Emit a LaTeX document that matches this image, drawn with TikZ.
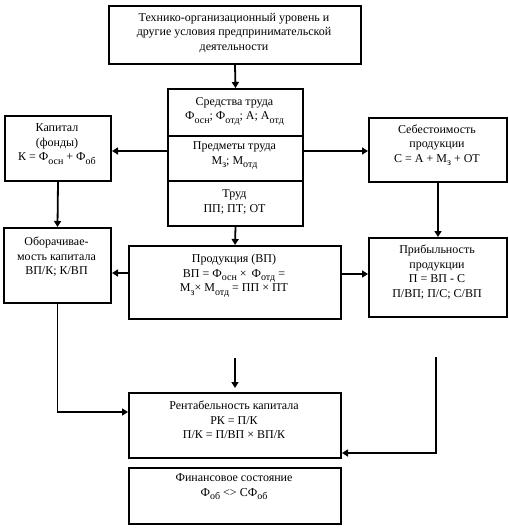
\documentclass[tikz,border=0pt]{standalone}
\usepackage{fontspec}
\setmainfont{Liberation Serif}
\usetikzlibrary{arrows.meta,calc}
\newcommand\lsub[1]{\raisebox{-3.5pt}{\fontsize{10}{10}\selectfont #1}}
\begin{document}
\begin{tikzpicture}[x=1pt,y=-1pt,
  box/.style={draw,line width=2pt,inner sep=0pt,anchor=north west},
  txt/.style={align=center,font=\fontsize{12}{14.5}\selectfont,inner sep=0pt,anchor=center},
  arr/.style={line width=1.8pt,-{Triangle[length=6pt,width=7pt]}},
  ln/.style={line width=1.8pt}]
\useasboundingbox (0,0) rectangle (509,528);
% boxes
\node[box,minimum width=252pt,minimum height=58pt] (tb) at (108,5) {};
\node[box,minimum width=135pt,minimum height=47pt] (m1) at (167,88) {};
\node[box,minimum width=135pt,minimum height=45pt] (m2) at (167,135) {};
\node[box,minimum width=135pt,minimum height=45pt] (m3) at (167,180) {};
\node[box,minimum width=106pt,minimum height=65pt] (cap) at (4,115) {};
\node[box,minimum width=138pt,minimum height=64pt] (seb) at (368,117) {};
\node[box,minimum width=107pt,minimum height=75pt] (ob) at (3,227) {};
\node[box,minimum width=212pt,minimum height=73pt] (prod) at (128,245) {};
\node[box,minimum width=138pt,minimum height=79pt] (prib) at (368,237) {};
\node[box,minimum width=212pt,minimum height=65pt] (rent) at (128,392) {};
\node[box,minimum width=212pt,minimum height=56pt] (fin) at (128,467) {};
% texts
\node[txt] (ttb) at (234,33) {Технико-организационный уровень и\\другие условия предпринимательской\\деятельности};
\node[txt] (tm1) at (234.5,111) {Средства труда\\Ф\lsub{осн}; Ф\lsub{отд}; А; А\lsub{отд}};
\node[txt] (tm2) at (234.5,156) {Предметы труда\\М\lsub{з}; М\lsub{отд}};
\node[txt] (tm3) at (234.5,202) {Труд\\ПП; ПТ; ОТ};
\node[txt] (tcap) at (57,144) {Капитал\\(фонды)\\К = Ф\lsub{осн} + Ф\lsub{об}};
\node[txt] (tseb) at (437,145) {Себестоимость\\продукции\\С = А + М\lsub{з} + ОТ};
\node[txt] (tob) at (56.5,257) {Оборачивае-\\мость капитала\\ВП/К; К/ВП};
\node[txt] (tprod) at (234,276) {Продукция (ВП)\\ВП = Ф\lsub{осн} ×\, Ф\lsub{отд} =\\М\lsub{з}× М\lsub{отд} = ПП × ПТ};
\node[txt] (tprib) at (437,272) {Прибыльность\\продукции\\П = ВП - С\\П/ВП; П/С; С/ВП};
\node[txt] (trent) at (234,420) {Рентабельность капитала\\РК = П/К\\П/К = П/ВП × ВП/К};
\node[txt] (tfin) at (234,487) {Финансовое состояние\\Ф\lsub{об} <> СФ\lsub{об}};
% free ends
\coordinate (c1) at (235,358);
\coordinate (c2) at (436,357);
% connectors
\draw[arr] (tb.south) -- (m1.north);
\draw[arr] (m2.west |- 0,151) -- (cap.east |- 0,151);
\draw[arr] (m2.east |- 0,151) -- (seb.west |- 0,151);
\draw[arr] (cap.south) -- (ob.north);
\draw[arr] (seb.south) -- (prib.north);
\draw[arr] (m3.south) -- (prod.north);
\draw[arr] (prod.west |- 0,273) -- (ob.east |- 0,273);
\draw[arr] (prod.east |- 0,274) -- (prib.west |- 0,274);
\draw[arr] (ob.south) |- (rent.west |- 0,412);
\draw[arr,shorten >=4pt] (c1) -- (c1 |- rent.north);
\draw[arr] (c2) |- (rent.east |- 0,453);
\end{tikzpicture}
\end{document}
